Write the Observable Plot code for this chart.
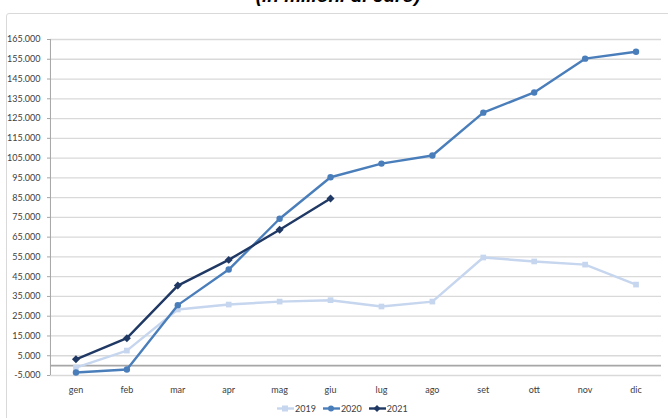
<!DOCTYPE html>
<html>
<head>
<meta charset="utf-8">
<script src="https://cdn.jsdelivr.net/npm/d3@7"></script>
<script src="https://cdn.jsdelivr.net/npm/@observablehq/plot@0.6"></script>
<style>
  html, body { margin: 0; padding: 0; background: #fff; }
  #wrap { position: relative; width: 668px; height: 418px; overflow: hidden; font-family: Lato, "Open Sans", sans-serif; }
  #frame { position: absolute; left: 6px; top: 13px; width: 700px; height: 500px; border: 1px solid #d9d9d9; border-radius: 3px; box-sizing: border-box; }
  #title { position: absolute; left: 0; width: 676px; top: -15px; text-align: center; font-family: "Liberation Sans", Arial, sans-serif; font-style: italic; font-weight: bold; font-size: 19px; color: #000; }
  #chart { position: absolute; left: 0; top: 0; }
  #legend { position: absolute; top: 403px; left: 277px; display: flex; align-items: center; font-size: 9px; color: #404040; gap: 0; }
  #legend .item { display: flex; align-items: center; margin-right: 7px; }
  #legend svg { display: block; margin-right: 1px; }
</style>
</head>
<body>
<div id="wrap">
  <div id="frame"></div>
  <div id="title">(in milioni di euro)</div>
  <div id="chart"></div>
  <div id="legend"></div>
</div>
<script>
const months = ["gen","feb","mar","apr","mag","giu","lug","ago","set","ott","nov","dic"];
const v2019 = [-1000, 7600, 28400, 30900, 32400, 33100, 29900, 32400, 54700, 52700, 51100, 41000];
const v2020 = [-3500, -2000, 30600, 48600, 74300, 95300, 102200, 106300, 128000, 138200, 155300, 158800];
const v2021 = [3200, 13900, 40500, 53500, 68700, 84600];
const seriesNames = ["2019", "2020", "2021"];
const seriesColors = ["#c6d6ee", "#4a7ebb", "#1f3864"];
const seriesSymbols = ["square", "circle", "diamond2"];
const yTicks = [-5000, 5000, 15000, 25000, 35000, 45000, 55000, 65000, 75000, 85000, 95000, 105000, 115000, 125000, 135000, 145000, 155000, 165000];

const allValues = [v2019, v2020, v2021];
const data = [];
allValues.forEach((vals, si) => {
  vals.forEach((v, i) => data.push({ series: seriesNames[si], month: months[i], value: v }));
});

const fmt = d => d3.format(",")(d).replace(/,/g, ".").replace("−", "-");

const marks = [
  Plot.gridY(yTicks, { stroke: "#d9d9d9", strokeOpacity: 1, strokeWidth: 1.3 }),
  Plot.ruleY([0], { stroke: "#a6a6a6", strokeWidth: 1.6 }),
  Plot.axisY(yTicks, { tickFormat: fmt, tickSize: 3, tickPadding: 7, fontSize: 9, fill: "#404040", stroke: "#a6a6a6", label: null }),
  Plot.ruleX([months[0]], { x: () => months[0], dx: -25.5, y1: -5000, y2: 165000, stroke: "#a6a6a6", strokeWidth: 1 }),
  Plot.axisX({ tickSize: 0, tickPadding: 11, fontSize: 9, fill: "#404040", label: null })
];
seriesNames.forEach((s, si) => {
  const d = data.filter(r => r.series === s);
  marks.push(Plot.line(d, { x: "month", y: "value", stroke: seriesColors[si], strokeWidth: 2.4 }));
  marks.push(Plot.dot(d, { x: "month", y: "value", symbol: seriesSymbols[si], fill: seriesColors[si], r: si === 2 ? 3.6 : 3.2, stroke: "none" }));
});

const chart = Plot.plot({
  width: 668,
  height: 400,
  marginLeft: 50,
  marginRight: 7,
  marginTop: 39,
  marginBottom: 25,
  style: { background: "transparent", fontFamily: "Lato, 'Open Sans', sans-serif" },
  x: { type: "point", domain: months, padding: 0.5, round: false },
  y: { domain: [-5000, 165000] },
  marks
});
document.getElementById("chart").appendChild(chart);

// legend
const legend = document.getElementById("legend");
seriesNames.forEach((s, si) => {
  const item = document.createElement("div");
  item.className = "item";
  const sym = seriesSymbols[si];
  let shape;
  if (sym === "square") shape = `<rect x="5" y="2.5" width="6" height="6" fill="${seriesColors[si]}"/>`;
  else if (sym === "circle") shape = `<circle cx="8" cy="5.5" r="3" fill="${seriesColors[si]}"/>`;
  else shape = `<path d="M8 2 L11.5 5.5 L8 9 L4.5 5.5 Z" fill="${seriesColors[si]}"/>`;
  item.innerHTML = `<svg width="17" height="11"><line x1="0" x2="17" y1="5.5" y2="5.5" stroke="${seriesColors[si]}" stroke-width="2.4"/>${shape}</svg><span>${s}</span>`;
  legend.appendChild(item);
});
</script>
</body>
</html>
